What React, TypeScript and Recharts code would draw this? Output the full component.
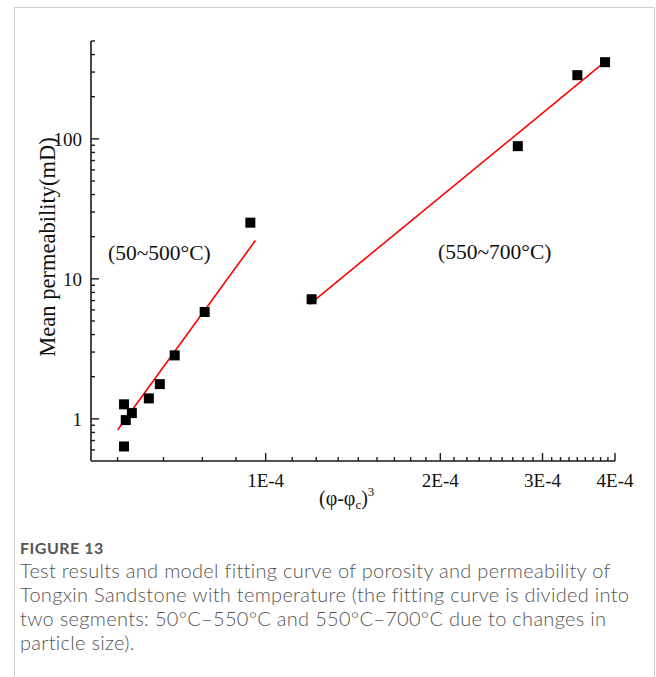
import { ScatterChart, Scatter, XAxis, YAxis } from 'recharts';

// measured permeability vs (φ-φc)^3
const lowTempPoints = [
  { x: 5.7e-5, y: 0.635 },
  { x: 5.7e-5, y: 1.27 },
  { x: 5.74e-5, y: 0.98 },
  { x: 5.88e-5, y: 1.1 },
  { x: 6.29e-5, y: 1.4 },
  { x: 6.57e-5, y: 1.77 },
  { x: 6.97e-5, y: 2.84 },
  { x: 7.85e-5, y: 5.8 },
  { x: 9.41e-5, y: 25.2 },
];
const highTempPoints = [
  { x: 1.2e-4, y: 7.15 },
  { x: 2.72e-4, y: 88.7 },
  { x: 3.445e-4, y: 285 },
  { x: 3.845e-4, y: 353 },
];

// fitted curves (end points of each straight segment on log-log axes)
const lowTempFit = [
  { x: 5.56e-5, y: 0.835 },
  { x: 9.6e-5, y: 18.8 },
];
const highTempFit = [
  { x: 1.19e-4, y: 6.58 },
  { x: 3.87e-4, y: 363 },
];

const xMajorTicks = [1e-4, 2e-4, 3e-4, 4e-4];
const xMajorLabels = ['1E-4', '2E-4', '3E-4', '4E-4'];
const yMajorTicks = [1, 10, 100];
const yMajorLabels = ['1', '10', '100'];
const xDomain = [5e-5, 4e-4];
const yDomain = [0.5, 500];

// minor ticks: 8 between each major on x, 2..9 per decade on y
const xStep = 1e-4 / 9;
const xMinorTicks: number[] = [];
for (let k = 4; k >= 1; k--) xMinorTicks.push(1e-4 - k * xStep);
for (const m of [1e-4, 2e-4, 3e-4]) {
  for (let k = 1; k <= 8; k++) xMinorTicks.push(m + k * xStep);
}
const yMinorTicks = [0.6, 0.7, 0.8, 0.9, 2, 3, 4, 5, 6, 7, 8, 9, 20, 30, 40, 50, 60, 70, 80, 90, 200, 300, 400, 500];

const xTicks = [...xMinorTicks, ...xMajorTicks].sort((a, b) => a - b);
const yTicks = [...yMinorTicks, ...yMajorTicks].sort((a, b) => a - b);

const serif = "'Liberation Serif', 'Times New Roman', serif";
const axisColor = '#1a1a1a';

function XTick({ x, y, payload }: any) {
  const i = xMajorTicks.findIndex((t) => Math.abs(t - payload.value) < 1e-9);
  const major = i >= 0;
  return (
    <g>
      <line x1={x} x2={x} y1={y} y2={y - (major ? 8 : 4)} stroke={axisColor} strokeWidth={1.4} />
      {major && (
        <text x={x} y={y + 26} textAnchor="middle" fontFamily={serif} fontSize={19} fill="#111">
          {xMajorLabels[i]}
        </text>
      )}
    </g>
  );
}

function YTick({ x, y, payload }: any) {
  const i = yMajorTicks.findIndex((t) => Math.abs(t - payload.value) / t < 1e-6);
  const major = i >= 0;
  return (
    <g>
      <line x1={x} x2={x + (major ? 8 : 4)} y1={y} y2={y} stroke={axisColor} strokeWidth={1.4} />
      {major && (
        <text x={x - 9} y={y} dy="0.35em" textAnchor="end" fontFamily={serif} fontSize={19} fill="#111">
          {yMajorLabels[i]}
        </text>
      )}
    </g>
  );
}

const square = (props: any) => (
  <rect x={props.cx - 5} y={props.cy - 5} width={10} height={10} fill="#000" />
);
const noDot = () => <g />;

export default function App() {
  return (
    <div
      style={{
        position: 'absolute',
        left: 0,
        top: 0,
        width: 656,
        height: 677,
        overflow: 'hidden',
        background: '#fff',
      }}
    >
      <div
        style={{
          position: 'absolute',
          left: 14,
          top: 7,
          width: 639,
          height: 700,
          border: '1px solid #cfcfcf',
          borderBottom: 'none',
        }}
      />
      <div style={{ position: 'absolute', left: 0, top: 0 }}>
        <ScatterChart width={656} height={520} margin={{ top: 41, right: 41, bottom: 29, left: 61 }}>
          <XAxis
            type="number"
            dataKey="x"
            scale="log"
            domain={xDomain}
            allowDataOverflow
            ticks={xTicks}
            interval={0}
            tick={<XTick />}
            tickLine={false}
            tickSize={0}
            tickMargin={0}
            height={30}
            axisLine={{ stroke: axisColor, strokeWidth: 1.6 }}
          />
          <YAxis
            type="number"
            dataKey="y"
            scale="log"
            domain={yDomain}
            allowDataOverflow
            ticks={yTicks}
            interval={0}
            tick={<YTick />}
            tickLine={false}
            tickSize={0}
            tickMargin={0}
            width={30}
            axisLine={{ stroke: axisColor, strokeWidth: 1.6 }}
          />
          <Scatter
            data={lowTempFit}
            line={{ stroke: '#ff0000', strokeWidth: 1.6 }}
            shape={noDot}
            isAnimationActive={false}
          />
          <Scatter
            data={highTempFit}
            line={{ stroke: '#ff0000', strokeWidth: 1.6 }}
            shape={noDot}
            isAnimationActive={false}
          />
          <Scatter data={lowTempPoints} shape={square} isAnimationActive={false} />
          <Scatter data={highTempPoints} shape={square} isAnimationActive={false} />
        </ScatterChart>
      </div>
      <svg
        width={656}
        height={520}
        style={{ position: 'absolute', left: 0, top: 0, pointerEvents: 'none' }}
      >
        <text
          x={47}
          y={247}
          dy="0.35em"
          textAnchor="middle"
          transform="rotate(-90 47 247)"
          fontFamily={serif}
          fontSize={22.5}
          fill="#111"
        >
          Mean permeability(mD)
        </text>
        <text x={108} y={252} dy="0.35em" fontFamily={serif} fontSize={21.5} fill="#111">
          (50~500°C)
        </text>
        <text x={438} y={251} dy="0.35em" fontFamily={serif} fontSize={21.5} fill="#111">
          (550~700°C)
        </text>
        <text x={319} y={505} fontFamily={serif} fontSize={20} fill="#111">
          (φ-φ
          <tspan dy={4} fontSize={13}>c</tspan>
          <tspan dy={-4}>)</tspan>
          <tspan dy={-9} fontSize={13}>3</tspan>
        </text>
      </svg>
      <div
        style={{
          position: 'absolute',
          left: 20,
          top: 537,
          fontFamily: "Lato, 'Noto Sans', sans-serif",
          color: '#555',
        }}
      >
        <div
          style={{ fontSize: 16, fontWeight: 700, lineHeight: '21px', letterSpacing: 0.5, marginBottom: 0 }}
        >
          FIGURE 13
        </div>
        <div
          style={{
            fontSize: 20,
            fontWeight: 300,
            lineHeight: '24px',
            letterSpacing: 0.3,
            whiteSpace: 'nowrap',
          }}
        >
          <div>Test results and model fitting curve of porosity and permeability of</div>
          <div>Tongxin Sandstone with temperature (the fitting curve is divided into</div>
          <div>two segments: 50°C–550°C and 550°C–700°C due to changes in</div>
          <div>particle size).</div>
        </div>
      </div>
    </div>
  );
}
